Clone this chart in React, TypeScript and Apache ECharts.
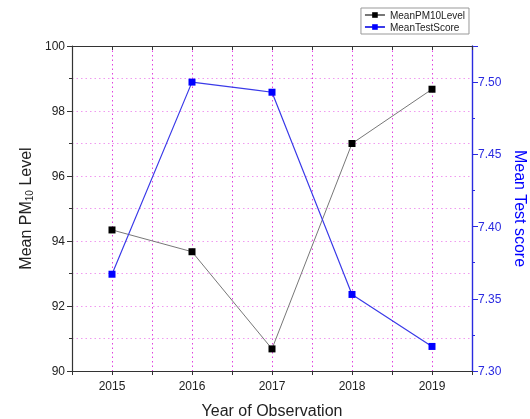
import React, { useEffect, useRef } from "react";
import * as echarts from "echarts";

// Observation years and the two measured series
const years = [2015, 2016, 2017, 2018, 2019];
const meanPM10Level = [94.34, 93.67, 90.68, 97.0, 98.67];
const meanTestScore = [7.367, 7.5, 7.493, 7.353, 7.317];

const FONT = "Liberation Sans, Arial, sans-serif";
const BLUE = "#0000ff";

export default function App() {
  const ref = useRef<HTMLDivElement>(null);

  useEffect(() => {
    if (!ref.current) return;
    const chart = echarts.init(ref.current, null, { renderer: "svg" });

    const pmData = years.map((y, i) => [y, meanPM10Level[i]]);
    const scoreData = years.map((y, i) => [y, meanTestScore[i]]);

    chart.setOption({
      animation: false,
      textStyle: { fontFamily: FONT },
      grid: { left: 72, right: 58, top: 46, bottom: 48, outerBoundsMode: "none" },
      legend: {
        orient: "vertical",
        right: 61,
        top: 8,
        itemWidth: 20,
        itemHeight: 7,
        itemGap: 2,
        padding: [2, 4, 2, 3],
        borderColor: "#999",
        borderWidth: 1,
        backgroundColor: "#fff",
        textStyle: { fontSize: 10, color: "#222", fontFamily: FONT },
        data: ["MeanPM10Level", "MeanTestScore"],
      },
      xAxis: [
        {
          type: "value",
          position: "bottom",
          min: 2014.5,
          max: 2019.5,
          interval: 0.5,
          name: "Year of Observation",
          nameLocation: "middle",
          nameGap: 31,
          nameTextStyle: { fontSize: 16, color: "#222", fontFamily: FONT },
          axisLine: { lineStyle: { color: "#333", width: 1.2 } },
          axisTick: { show: true, length: 4, lineStyle: { color: "#333" } },
          axisLabel: {
            fontSize: 12,
            color: "#222",
            margin: 9,
            formatter: (v: number) => (v % 1 === 0 ? String(v) : ""),
          },
          splitLine: {
            show: true,
            lineStyle: { color: "#e040e0", type: [1.5, 3], width: 1 },
          },
        },
        {
          type: "value",
          position: "top",
          min: 2014.5,
          max: 2019.5,
          interval: 0.5,
          axisLine: { show: true, lineStyle: { color: "#333", width: 1.2 } },
          axisTick: { show: true, inside: true, length: 4, lineStyle: { color: "#333" } },
          axisLabel: { show: false },
          splitLine: { show: false },
        },
      ],
      yAxis: [
        {
          type: "value",
          position: "left",
          min: 90,
          max: 100,
          interval: 2,
          name: "Mean PM{sub|10} Level",
          nameLocation: "middle",
          nameGap: 36,
          nameRotate: 90,
          nameTextStyle: {
            fontSize: 16,
            color: "#222",
            fontFamily: FONT,
            rich: {
              sub: { fontSize: 10, verticalAlign: "bottom", padding: [8, 0, 0, 0], color: "#222" },
            },
          },
          axisLine: { show: true, lineStyle: { color: "#333", width: 1.2 } },
          axisTick: { show: true, length: 5, lineStyle: { color: "#333" } },
          minorTick: { show: true, splitNumber: 2, length: 3, lineStyle: { color: "#333" } },
          axisLabel: { fontSize: 12, color: "#222", margin: 7 },
          splitLine: {
            show: true,
            lineStyle: { color: "#f09af0", type: [1.5, 3], width: 1 },
          },
          minorSplitLine: {
            show: true,
            lineStyle: { color: "#f09af0", type: [1.5, 3], width: 1 },
          },
        },
        {
          type: "value",
          position: "right",
          min: 7.3,
          max: 7.525,
          interval: 0.05,
          name: "Mean Test score",
          nameLocation: "middle",
          nameGap: 39,
          nameRotate: -90,
          nameTextStyle: { fontSize: 16, color: BLUE, fontFamily: FONT },
          axisLine: { show: true, lineStyle: { color: "#2a2ae0", width: 1.4 } },
          axisTick: { show: true, length: 6, lineStyle: { color: "#2a2ae0" } },
          minorTick: { show: true, splitNumber: 2, length: 3, lineStyle: { color: "#2a2ae0" } },
          axisLabel: {
            fontSize: 12,
            color: "#2a2ae0",
            margin: 6,
            showMaxLabel: false,
            formatter: (v: number) => v.toFixed(2),
          },
          splitLine: { show: false },
        },
      ],
      series: [
        {
          name: "MeanPM10Level",
          type: "line",
          xAxisIndex: 0,
          yAxisIndex: 0,
          data: pmData,
          symbol: "rect",
          symbolSize: 7,
          itemStyle: { color: "#000" },
          lineStyle: { color: "#777", width: 1 },
          z: 3,
        },
        {
          name: "MeanTestScore",
          type: "line",
          xAxisIndex: 0,
          yAxisIndex: 1,
          data: scoreData,
          symbol: "rect",
          symbolSize: 7,
          itemStyle: { color: BLUE },
          lineStyle: { color: "#3a3ae8", width: 1.2 },
          z: 4,
        },
      ],
    });

    return () => chart.dispose();
  }, []);

  return (
    <div
      ref={ref}
      style={{ position: "fixed", left: 0, top: 0, width: 530, height: 419 }}
    />
  );
}
